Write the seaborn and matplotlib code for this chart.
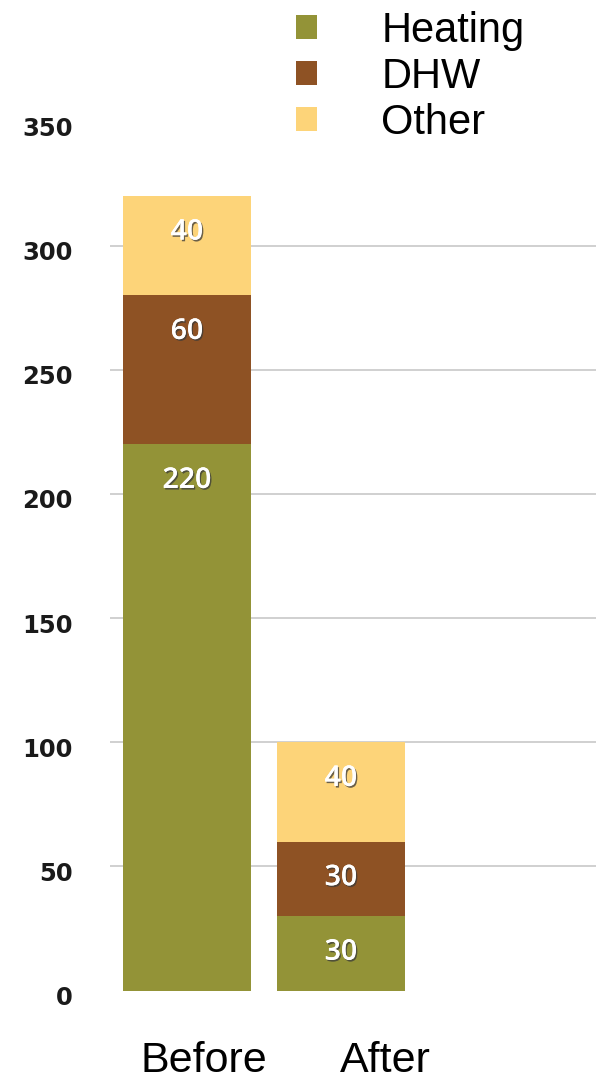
import matplotlib
matplotlib.use("Agg")
import matplotlib.pyplot as plt
import matplotlib.patheffects as pe
from matplotlib.patches import Patch
from matplotlib.transforms import ScaledTranslation
import numpy as np
import pandas as pd
import seaborn as sns

# Energy use before and after retrofit, split by end use
periods = ["Before", "After"]
heating = [220, 30]
dhw = [60, 30]
other = [40, 40]
series_names = ["Heating", "DHW", "Other"]
series_colors = ["#939337", "#8e5224", "#fdd479"]
yticks = [0, 50, 100, 150, 200, 250, 300, 350]

sns.set_theme(style="white")
plt.rcParams["font.family"] = ["Liberation Sans", "DejaVu Sans"]
plt.rcParams["text.color"] = "black"

fig = plt.figure(figsize=(5.96, 10.90), dpi=100)
W, H = 596, 1090
ax = fig.add_axes([110 / W, (H - 990.6) / H, (W - 110) / W, (990.6 - 121.5) / H])

df = pd.DataFrame({"period": periods, "Heating": heating, "DHW": dhw, "Other": other})
df["c_heat"] = df["Heating"]
df["c_dhw"] = df["Heating"] + df["DHW"]
df["c_other"] = df["c_dhw"] + df["Other"]

# stacked bars: draw cumulative totals from the top layer down
layers = [("c_other", "Other", series_colors[2]),
          ("c_dhw", "DHW", series_colors[1]),
          ("c_heat", "Heating", series_colors[0])]
for col, name, color in layers:
    sns.barplot(data=df, x="period", y=col, color=color, width=0.83,
                saturation=1, ax=ax, zorder=3, errorbar=None,
                linewidth=0, edgecolor="none")

# segment value labels, just under each segment's top
shadow = [pe.withSimplePatchShadow(offset=(1, -1.2), shadow_rgbFace="#3a3a3a", alpha=0.75),
          pe.Normal()]
for col, name, _ in layers:
    for i, row in df.iterrows():
        ax.annotate(f"{row[name]}", xy=(i, row[col]), xytext=(0, -26),
                    textcoords="offset points", ha="center", va="center",
                    fontsize=20.5, fontweight="semibold", color="white",
                    family=["Open Sans", "DejaVu Sans"], zorder=5,
                    path_effects=shadow)

ax.set_ylim(0, 350)
ax.set_xlim(-0.5, 2.656)
ax.set_yticks(yticks)
ax.set_yticklabels([str(t) for t in yticks], fontsize=17.5, fontweight="bold",
                   family=["DejaVu Sans"], color="#1a1a1a")
ax.tick_params(axis="y", length=0, pad=27)
off = ScaledTranslation(0, -5 / 100, fig.dpi_scale_trans)
for lbl in ax.get_yticklabels():
    lbl.set_transform(lbl.get_transform() + off)

# category labels
ax.set_xticks([0.11, 1.29])
ax.set_xticklabels(periods, fontsize=31, color="black")
ax.tick_params(axis="x", length=0, pad=36)
ax.set_xlabel("")
ax.set_ylabel("")

ax.yaxis.grid(True, color="#c8c8c8", linewidth=1.2, zorder=0)
ax.set_axisbelow(True)
glines = ax.get_ygridlines()
glines[0].set_visible(False)
glines[-1].set_visible(False)
for s in ax.spines.values():
    s.set_visible(False)

handles = [Patch(facecolor=c, edgecolor="none") for c in series_colors]
leg = fig.legend(handles, series_names, loc="upper left",
                 bbox_to_anchor=(296 / W, 1 - 11 / H), frameon=False, fontsize=30,
                 handlelength=0.5, handleheight=0.5, handletextpad=1.55,
                 labelspacing=0.14, borderpad=0, borderaxespad=0)
for t in leg.get_texts():
    t.set_color("black")

fig.savefig("out.png", dpi=100, facecolor="white")
